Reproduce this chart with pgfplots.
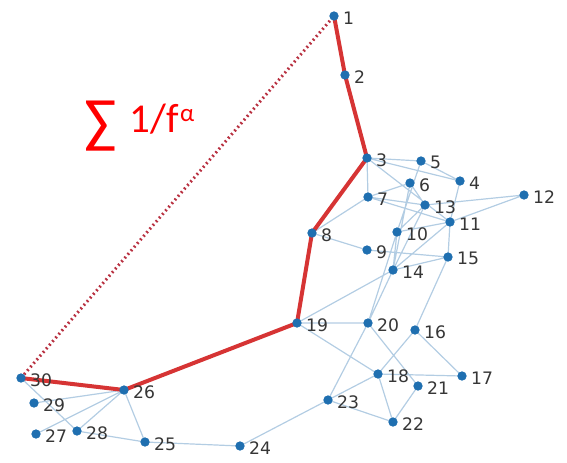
\documentclass[border=0pt]{standalone}
\usepackage{pgfplots}
\pgfplotsset{compat=1.18}
\usepackage{pgfplotstable}
\usepackage{fontspec}
\setmainfont{DejaVu Sans}
\newfontfamily\calib{Carlito}
\definecolor{nodeblue}{HTML}{1F6FB0}
\definecolor{edgeblue}{HTML}{B3CDE3}
\definecolor{labgray}{HTML}{363636}
\definecolor{pathred}{HTML}{D21E1E}
\definecolor{dotred}{HTML}{B83040}
\pgfplotstableread{
x y lab
334 16 1
345 75 2
367 158 3
460 181 4
421 161 5
410 183 6
368 197 7
312 233 8
367 250 9
397 232 10
450 222 11
524 195 12
425 205 13
393 270 14
448 257 15
415 330 16
462 376 17
378 374 18
297 323 19
368 323 20
418 386 21
393 422 22
328 400 23
240 446 24
145 442 25
124 390 26
36 434 27
77 431 28
34 403 29
21 378 30
}\nodetab
\begin{document}
\begin{tikzpicture}
\begin{axis}[
  scale only axis, width=283.5pt, height=231pt,
  xmin=0, xmax=567, ymin=0, ymax=462, y dir=reverse,
  hide axis, clip=false, unbounded coords=jump,
]
% edges
\addplot[edgeblue, line width=0.6pt] coordinates {
(367,158)(421,161) (nan,nan)
(367,158)(460,181) (nan,nan)
(367,158)(368,197) (nan,nan)
(367,158)(450,222) (nan,nan)
(421,161)(460,181) (nan,nan)
(421,161)(397,232) (nan,nan)
(410,183)(393,270) (nan,nan)
(410,183)(425,205) (nan,nan)
(410,183)(368,197) (nan,nan)
(368,197)(425,205) (nan,nan)
(368,197)(450,222) (nan,nan)
(368,197)(312,233) (nan,nan)
(460,181)(450,222) (nan,nan)
(425,205)(524,195) (nan,nan)
(450,222)(524,195) (nan,nan)
(397,232)(425,205) (nan,nan)
(397,232)(450,222) (nan,nan)
(397,232)(393,270) (nan,nan)
(312,233)(367,250) (nan,nan)
(367,250)(448,257) (nan,nan)
(450,222)(448,257) (nan,nan)
(450,222)(393,270) (nan,nan)
(393,270)(448,257) (nan,nan)
(425,205)(393,270) (nan,nan)
(393,270)(297,323) (nan,nan)
(393,270)(368,323) (nan,nan)
(397,232)(368,323) (nan,nan)
(448,257)(415,330) (nan,nan)
(297,323)(368,323) (nan,nan)
(297,323)(378,374) (nan,nan)
(368,323)(418,386) (nan,nan)
(368,323)(328,400) (nan,nan)
(415,330)(462,376) (nan,nan)
(415,330)(378,374) (nan,nan)
(378,374)(462,376) (nan,nan)
(378,374)(393,422) (nan,nan)
(378,374)(328,400) (nan,nan)
(418,386)(393,422) (nan,nan)
(328,400)(393,422) (nan,nan)
(328,400)(240,446) (nan,nan)
(240,446)(145,442) (nan,nan)
(145,442)(124,390) (nan,nan)
(145,442)(77,431) (nan,nan)
(124,390)(77,431) (nan,nan)
(124,390)(36,434) (nan,nan)
(124,390)(34,403) (nan,nan)
(21,378)(77,431)
};
% nodes
\addplot[only marks, mark=*, mark size=2.1pt, color=nodeblue,
  nodes near coords, point meta=explicit symbolic,
  nodes near coords style={anchor=west, xshift=1.0pt, yshift=-0.9pt, font=\fontsize{8.6}{9}\selectfont, text=labgray}]
  table[x=x, y=y, meta=lab]{\nodetab};
% red path
\addplot[pathred, line width=2pt, opacity=0.9, line join=round] coordinates {
(334,16)(345,75)(367,158)(312,233)(297,323)(124,390)(21,378)};
\addplot[dotred, line width=1.5pt, dash pattern=on 0.9pt off 1.5pt] coordinates {
(21,378)(334,16)};
\node[anchor=base west, text=red, inner sep=0pt, font=\calib] at (axis cs:84,141) {{\fontsize{30}{30}\selectfont ∑}\hspace{6.5pt}\raisebox{4.5pt}{\fontsize{20.5}{21}\selectfont 1/f}\hspace{0.6pt}\raisebox{10pt}{\fontsize{12.5}{13}\selectfont α}};
\end{axis}
\pgfresetboundingbox
\useasboundingbox (current axis.south west) rectangle (current axis.north east);
\end{tikzpicture}
\end{document}
